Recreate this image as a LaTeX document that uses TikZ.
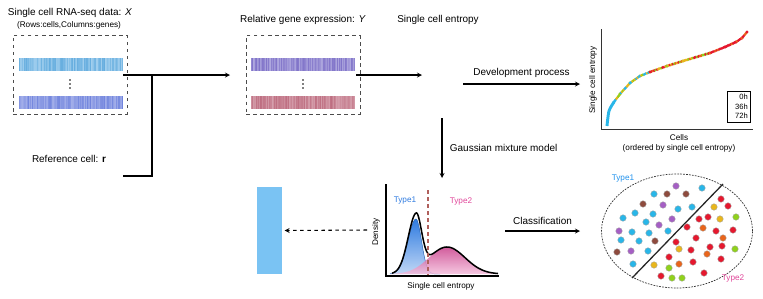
\documentclass[tikz,border=0pt]{standalone}
\usepackage{fontspec}
\setmainfont{Liberation Sans}
\usepackage{xcolor}
\usetikzlibrary{shapes.geometric,calc}
\definecolor{cellcyan}{HTML}{29B6E8}
\definecolor{cellpurple}{HTML}{A55FC4}
\definecolor{cellbrown}{HTML}{8E4B3E}
\definecolor{cellred}{HTML}{E5182E}
\definecolor{cellorange}{HTML}{E8651C}
\definecolor{cellyellow}{HTML}{E8B61D}
\definecolor{cellgreen}{HTML}{90D11C}
\definecolor{typeblue}{HTML}{2F7BE0}
\definecolor{typepink}{HTML}{E0479A}
\definecolor{cutline}{HTML}{B0605C}
\definecolor{refbar}{HTML}{7AC3F3}
\definecolor{xbaseA}{HTML}{A3D0EF}
\definecolor{xlineA}{HTML}{4C9FD8}
\definecolor{xbaseB}{HTML}{A3AFEA}
\definecolor{xlineB}{HTML}{5B72D8}
\definecolor{ybaseA}{HTML}{AFA8DF}
\definecolor{ylineA}{HTML}{6D5EC0}
\definecolor{ybaseB}{HTML}{D6A0AD}
\definecolor{ylineB}{HTML}{B4596E}
\pgfmathdeclarerandomlist{early}{{cellcyan}{cellcyan}{cellgreen}{cellyellow}{cellyellow}}
\pgfmathdeclarerandomlist{middle}{{cellyellow}{cellorange}{cellred}{cellred}{cellgreen}}
\pgfmathdeclarerandomlist{late}{{cellred}{cellred}{cellred}{cellorange}}
\newcommand{\barcode}[4]{%
  \fill[#3] (#1,#2) rectangle ++(104,13);
  \foreach \i in {0,...,103}{
    \pgfmathsetmacro{\op}{0.7*rnd}
    \fill[#4,opacity=\op] (#1+\i,#2) rectangle ++(1,13);}}
\newcommand{\cellrun}[4]{%
  \foreach \k in {0,...,#4}{
    \pgfmathrandomitem{\cellcol}{#1}
    \fill[\cellcol] ($#2!\k/#4!#3$) circle (1.3pt);}}

\begin{document}
\begin{tikzpicture}[x=0.03cm,y=-0.03cm,>=stealth,
  every node/.style={font=\fontsize{8.5}{10}\selectfont},
  small/.style={font=\fontsize{7}{8.4}\selectfont},
  databox/.style={draw=black!70,dashed,minimum width=3.42cm,minimum height=2.36cm,inner sep=0},
  conn/.style={line width=0.9pt},
  cell/.style={draw=black!35,line width=0.3pt},
  declare function={bl(\t)=55*exp(-(\t-416)*(\t-416)/(\t<416 ? 128 : 60));
                    pk(\t)=27*exp(-(\t-447)*(\t-447)/648);}]
  \useasboundingbox (0,0) rectangle (763,298);
  \pgfmathsetseed{7}

  \node (Xtitle) at (70,13) {Single cell RNA-seq data: \textit{X}};
  \node[small] (Xsub) at (69,25) {(Rows:cells,Columns:genes)};
  \node[databox] (Xbox) at (70,74.5) {};
  \barcode{19}{58}{xbaseA}{xlineA}
  \barcode{19}{96}{xbaseB}{xlineB}
  \foreach \d in {80,84,88} \fill (70,\d) circle (0.7pt);

  \node (Ytitle) at (303,20) {Relative gene expression: \textit{Y}};
  \node[databox] (Ybox) at (303,75) {};
  \barcode{251}{58}{ybaseA}{ylineA}
  \barcode{251}{96}{ybaseB}{ylineB}
  \foreach \d in {80,84,88} \fill (303,\d) circle (0.7pt);

  \node (Etitle) at (438,20) {Single cell entropy};
  \node (refcell) at (69,159) {Reference cell: \textbf{r}};

  \coordinate (Xout) at (123,75);
  \coordinate (Yin) at (230,75);
  \coordinate (Rout) at (123,176);
  \coordinate (Rjoin) at (152,75);
  \coordinate (Yout) at (356,75);
  \coordinate (Ein) at (422,75);
  \draw[conn,->] (Xout) -- (Yin);
  \draw[conn] (Rout) -| (Rjoin);
  \draw[conn,->] (Yout) -- (Ein);

  \coordinate (Dstart) at (463,84);
  \coordinate (Dend) at (580,84);
  \draw[conn,->] (Dstart) -- (Dend) node[midway,above=2pt] {Development process};

  \coordinate (Stop) at (601,29);
  \coordinate (Sorigin) at (601,129);
  \coordinate (Sright) at (753,129);
  \draw[line width=0.8pt,black!80] (Stop) -- (Sorigin) -- (Sright);
  \node[small,rotate=90] (Sylab) at (593,80) {Single cell entropy};
  \node[small] (Sxlab) at (679,138) {Cells};
  \node[small] (Sxsub) at (679,148) {(ordered by single cell entropy)};
  \draw[cellcyan,line width=2.5pt] plot[smooth] coordinates {(607,126) (609,111) (614,102)};
  \cellrun{early}{(614,102)}{(620,94)}{7}
  \cellrun{early}{(620,94)}{(630,83)}{10}
  \cellrun{early}{(630,83)}{(640,76)}{8}
  \cellrun{early}{(640,76)}{(650,72)}{7}
  \cellrun{middle}{(650,72)}{(667,66)}{12}
  \cellrun{middle}{(667,66)}{(683,61)}{11}
  \cellrun{middle}{(683,61)}{(710,53)}{19}
  \cellrun{late}{(710,53)}{(725,47)}{11}
  \cellrun{late}{(725,47)}{(736,42)}{8}
  \cellrun{late}{(736,42)}{(742,38)}{5}
  \cellrun{late}{(742,38)}{(747,32)}{5}
  \node[draw,line width=0.8pt,minimum width=0.69cm,minimum height=0.93cm,inner sep=1.5pt,
        text width=16pt,align=right,font=\fontsize{6.5}{8}\selectfont] (legend) at (738.5,106.5) {0h\\36h\\72h};

  \coordinate (Gtop) at (442,118);
  \coordinate (Gend) at (442,178);
  \draw[conn,->] (Gtop) -- (Gend) node[midway,right=3pt] {Gaussian mixture model};

  \shade[top color=typeblue,bottom color=typeblue!30] (390,274) -- plot[domain=390:440,samples=60] (\x,{274-bl(\x)}) -- (440,274) -- cycle;
  \draw[typeblue!80!black,line width=0.4pt] plot[domain=390:440,samples=60] (\x,{274-bl(\x)});
  \shade[top color=typepink!90!black,bottom color=typepink!35,fill opacity=0.85] (390,274) -- plot[domain=390:498,samples=80] (\x,{274-pk(\x)}) -- (498,274) -- cycle;
  \draw[line width=1.3pt] plot[domain=392:498,samples=100] (\x,{274-bl(\x)-pk(\x)});
  \draw[cutline,line width=0.9pt,dashed] (428,190) -- (428,276);
  \draw[line width=1.2pt] (386,184) -- (386,276) -- (499,276);
  \node[small,typeblue] (T1) at (405,201) {Type1};
  \node[small,typepink] (T2) at (461,201) {Type2};
  \node[small,rotate=90] (Dlab) at (376,232) {Density};
  \node[small] (Elab) at (441,286) {Single cell entropy};

  \node[fill=refbar,minimum width=0.75cm,minimum height=2.61cm,inner sep=0] (refrect) at (269.5,230.5) {};
  \coordinate (Gleft) at (367,230);
  \draw[conn,->,dashed] (Gleft) -- ([xshift=2pt]refrect.east);

  \coordinate (Cstart) at (505,231);
  \coordinate (Cend) at (580,231);
  \draw[conn,->] (Cstart) -- (Cend) node[midway,above=2pt] {Classification};

  \node[ellipse,draw=black!80,dash pattern=on 1.5pt off 1pt,line width=0.6pt,
        minimum width=4.53cm,minimum height=3.42cm,inner sep=0] (pop) at (677,231) {};
  \coordinate (Cut1) at (632,278);
  \coordinate (Cut2) at (723,184);
  \draw[line width=1.1pt,black!85] (Cut1) -- (Cut2);
  \foreach \px/\py/\col in {676/186/cellpurple,702/188/cellcyan,654/194/cellcyan,667/194/cellbrown,
      686/194/cellbrown,643/204/cellbrown,663/205/cellpurple,678/209/cellcyan,692/207/cellcyan,
      623/218/cellcyan,635/213/cellcyan,653/214/cellcyan,646/222/cellcyan,659/225/cellpurple,
      672/219/cellpurple,619/231/cellpurple,632/232/cellcyan,649/233/cellcyan,668/231/cellcyan,
      621/240/cellcyan,639/241/cellcyan,655/241/cellbrown,617/252/cellbrown,631/251/cellpurple,
      648/251/cellcyan,633/264/cellcyan,
      721/199/cellred,714/207/cellyellow,728/206/cellred,699/219/cellred,708/217/cellred,
      720/219/cellyellow,736/217/cellgreen,687/227/cellred,703/228/cellorange,716/231/cellred,
      733/230/cellred,696/238/cellred,723/238/cellorange,676/242/cellred,710/247/cellred,
      722/246/cellred,679/249/cellyellow,691/250/cellred,707/254/cellorange,735/249/cellgreen,
      669/257/cellred,721/259/cellred,654/265/cellyellow,679/264/cellorange,693/262/cellred,
      669/268/cellgreen,661/276/cellred,672/278/cellgreen,682/278/cellgreen,704/273/cellred}
    \filldraw[cell,fill=\col] (\px,\py) circle (2.8pt);
  \node[small,cellcyan!80!blue] (P1) at (623,179) {Type1};
  \node[small,typepink] (P2) at (733,278) {Type2};
\end{tikzpicture}
\end{document}
